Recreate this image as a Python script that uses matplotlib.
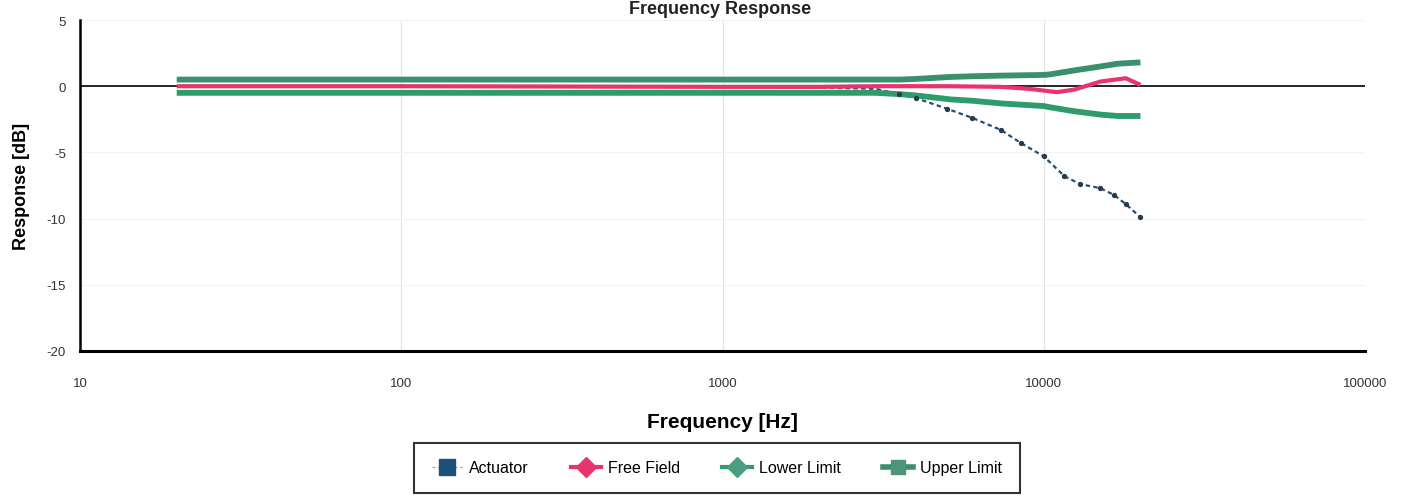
import matplotlib
matplotlib.use("Agg")
import matplotlib.pyplot as plt
from matplotlib.lines import Line2D
import matplotlib.ticker as mticker

# ---- data ----
limit_freq = [20, 100, 1000, 2000, 3000, 3550, 4000, 5140, 6000, 7350, 10000, 10500, 12500, 15100, 17000, 20000]
upper_limit = [0.5, 0.5, 0.5, 0.5, 0.5, 0.5, 0.55, 0.7, 0.75, 0.8, 0.85, 0.9, 1.2, 1.5, 1.7, 1.8]
lower_limit = [-0.5, -0.5, -0.5, -0.5, -0.5, -0.6, -0.7, -1.0, -1.1, -1.3, -1.5, -1.6, -1.9, -2.15, -2.25, -2.25]

ff_freq = [20, 100, 1000, 2000, 3000, 3550, 5000, 7350, 9000, 11000, 12500, 15000, 18000, 20000]
free_field = [0.0, 0.0, -0.05, -0.05, 0.0, 0.0, 0.0, -0.05, -0.2, -0.45, -0.25, 0.35, 0.6, 0.1]

act_freq = [20, 100, 1000, 2000, 3000, 3550, 4000, 5000, 6000, 7350, 8500, 10000, 11600, 13000, 15000, 16500, 18000, 20000]
actuator = [0.0, 0.0, -0.05, -0.1, -0.2, -0.6, -0.9, -1.7, -2.4, -3.3, -4.3, -5.3, -6.8, -7.4, -7.7, -8.2, -8.9, -9.9]

series_labels = ["Actuator", "Free Field", "Lower Limit", "Upper Limit"]
x_ticks = [10, 100, 1000, 10000, 100000]
x_tick_labels = ["10", "100", "1000", "10000", "100000"]
y_ticks = [5, 0, -5, -10, -15, -20]

# ---- styling ----
navy = "#1f4e79"
red = "#e8336b"
green_lo = "#2e9c6a"
green_up = "#3a8f6c"

plt.rcParams['font.family'] = ['Liberation Sans', 'DejaVu Sans']
plt.rcParams['axes.unicode_minus'] = False

fig = plt.figure(figsize=(14.06, 5.02), dpi=100)
ax = fig.add_axes([80/1406, 1 - 352/502, (1365 - 80)/1406, (352 - 21)/502])

ax.set_xscale("log")
ax.set_xlim(10, 100000)
ax.set_ylim(-20, 5)

# faint grid
for xv in x_ticks[1:-1]:
    ax.axvline(xv, color="#e4e4e4", lw=0.8, zorder=0)
for yv in [5, -5, -10, -15]:
    ax.axhline(yv, color="#f2f2f2", lw=0.8, zorder=0)

ax.axhline(0, color="black", lw=1.2, zorder=1)

# actuator (under the other curves where they overlap)
ax.plot(act_freq, actuator, color=navy, lw=1.6, ls=(0, (2, 1.5)), zorder=2)
ax.plot(act_freq[5:], actuator[5:], ls="none", marker="o", markersize=2.8,
        color="#2b3a4a", zorder=6)

ax.plot(limit_freq, upper_limit, color=green_up, lw=4.2, solid_capstyle="butt", zorder=3)
ax.plot(limit_freq, lower_limit, color=green_lo, lw=4.2, solid_capstyle="butt", zorder=3)
ax.plot(ff_freq, free_field, color=red, lw=3, solid_capstyle="butt", zorder=4)

ax.set_xticks(x_ticks)
ax.set_xticklabels(x_tick_labels)
ax.xaxis.set_minor_locator(mticker.NullLocator())
ax.set_yticks(y_ticks)
ax.tick_params(axis="both", length=0, labelsize=9.5, colors="#333333")
ax.tick_params(axis="x", pad=19)
ax.tick_params(axis="y", pad=10)

for s in ["top", "right"]:
    ax.spines[s].set_visible(False)
ax.spines["left"].set_linewidth(1.8)
ax.spines["bottom"].set_linewidth(2.2)

ax.set_xlabel("Frequency [Hz]", fontsize=15, fontweight="bold", labelpad=16)
ax.set_ylabel("Response [dB]", fontsize=13, fontweight="bold", labelpad=12)

fig.text(0.512, 0.999, "Frequency Response", ha="center", va="top",
         fontsize=13, fontweight="bold", color="#222222")

handles = [
    Line2D([], [], color="#c8a070", lw=1, ls=(0, (2, 2)), marker="s",
           markersize=11, markerfacecolor=navy, markeredgecolor=navy),
    Line2D([], [], color=red, lw=3, marker="D", markersize=10,
           markerfacecolor=red, markeredgecolor=red),
    Line2D([], [], color=green_lo, lw=3, marker="D", markersize=10,
           markerfacecolor="#4a9e80", markeredgecolor="#4a9e80"),
    Line2D([], [], color=green_up, lw=4, marker="s", markersize=10,
           markerfacecolor="#4e9478", markeredgecolor="#4e9478"),
]
leg = fig.legend(handles, series_labels, loc="center",
                 bbox_to_anchor=(717/1406, 1 - 469/502),
                 ncol=4, frameon=True, fancybox=False, edgecolor="black",
                 fontsize=11.5, handlelength=1.9, columnspacing=2.6,
                 borderpad=1.1, handletextpad=0.45)
leg.get_frame().set_linewidth(1.5)

fig.savefig("out.png", dpi=100)
